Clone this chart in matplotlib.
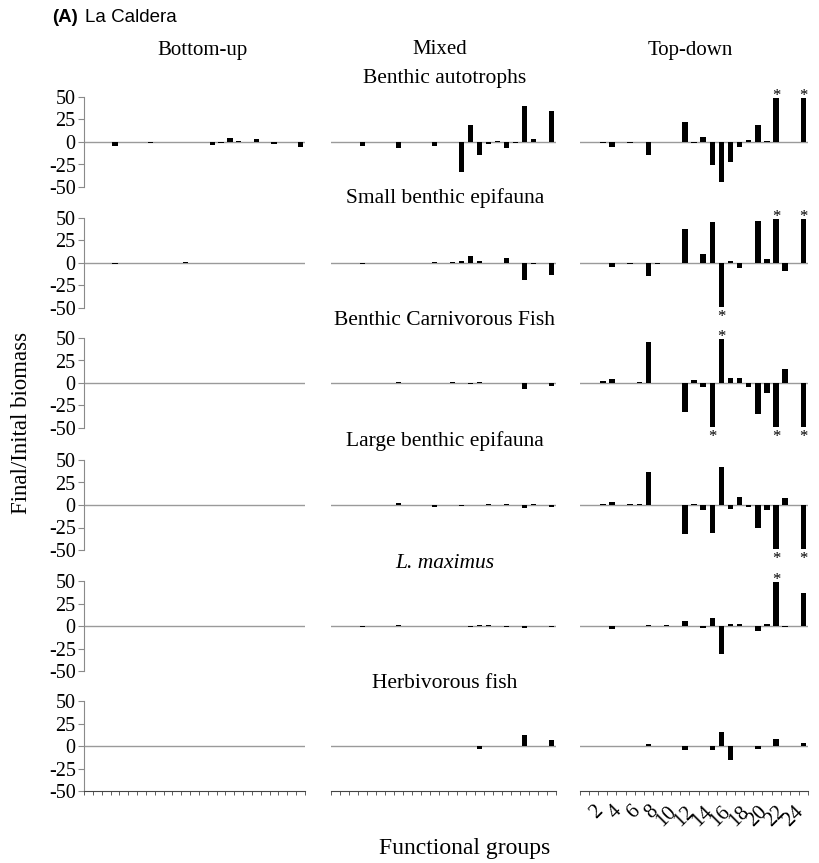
import numpy as np
import matplotlib
matplotlib.use("Agg")
from matplotlib import pyplot as plt

plt.rcParams['font.family'] = ['Liberation Serif', 'DejaVu Serif']
plt.rcParams['axes.unicode_minus'] = False

# functional groups 1..25
groups = np.arange(1, 26)
scenarios = ["Bottom-up", "Mixed", "Top-down"]
panel_titles = ["Benthic autotrophs", "Small benthic epifauna", "Benthic Carnivorous Fish",
                "Large benthic epifauna", "L. maximus", "Herbivorous fish"]

# Final/Initial biomass, one list per scenario
ba_bu = [0, 0, 0, -4, 0, -0.5, 0, -1.5, 0, -0.5, 0, -0.3, -0.3, 0, -3, -1, 4.5, 1.5, 0, 3.5, -0.5, -2.5, 0, 0, -5.5]
ba_mx = [0, 0, -0.5, -4, 0, -0.5, 0, -7, 0, 0.5, -0.5, -4.5, 0, 0, -33, 19, -15, -2.5, 1, -7, -1, 40, 3, 0, 34]
ba_td = [0, 0, -1, -6, 0, -1, -0.5, -15, -0.5, 0.5, -0.5, 22.5, -1, 5, -26, -44, -22, -6, 2, 19, 1, 49, 0, 0, 49]

sbe_bu = [0, 0, 0, -1, 0, 0, 0, -0.5, 0, 0, 0, 1, 0, 0, 0, -0.5, 0, 0, 0, 0, 0, 0, 0, 0, 0]
sbe_mx = [0, 0, -0.5, -1, 0, -0.5, -0.5, -0.5, 0, -0.5, 0, 1, 0, 1, 2, 8, 2, 0, -0.5, 5, -0.5, -19, -1, 0, -13]
sbe_td = [-0.5, -0.5, -0.5, -5, 0, -1, -0.5, -15, -1, 0, -0.5, 38, -0.5, 10, 45, -49, 2, -6, 0.5, 47, 4, 49, -8.5, 0, 49]

bcf_bu = [0, 0, 0, 0, -0.5, 0, 0, 0, 0, 0, 0, 0, 0, 0, 0, 0, 0, 0, 0, 0, 0, 0, 0, 0, 0]
bcf_mx = [0, 0, 0, 0, 0, 0, 0, 1.5, 0, 0, 0, 0.5, 0.5, 1, -0.5, -1, 1.5, 0, 0, -0.5, 0.5, -6.5, 0.5, 0, -3]
bcf_td = [0, 0.5, 2, 4, 0, 0.5, 1, 46, 0.5, -0.5, 0.5, -32, 3, -4, -49, 49, 5.5, 6, -4, -35, -11.5, -49, 15.5, 0, -49]

lbe_bu = [0, 0, 0, 0, 0, 0, 0, 0, 0, 0, 0, -0.5, 0, 0, 0, 0, 0, 0, 0, 0, 0, 0, 0, 0, 0]
lbe_mx = [0, 0, 0, 0, 0, 0, 0, 2, 0, 0, 0, -2, 0, -0.5, -1, 0, 0.5, 1, 0, 1, 0, -3, 1, 0, -2.5]
lbe_td = [0, 0, 1, 3.5, 0, 1, 1, 37, 0.5, -0.5, 0, -32, 1, -5.5, -31, 42, -4.5, 9, -2.5, -25, -6, -49, 8, 0, -49]

lm_bu = [0, 0, 0, -0.5, 0, 0, 0, 0, 0, 0, 0, 0, 0, 0, 0, 0, 0, 0, 0, 0, 0, 0, 0, 0, 0]
lm_mx = [0, 0, 0, -1.5, 0, -0.5, 0, 1.5, 0, 0.5, 0.5, 0, 0, -0.5, 0, -1.5, 1.5, 1, 0, -1.5, 0, -2.5, 0, 0, -1]
lm_td = [0, 0, 0, -3.5, 0, 0.5, 0, 1.5, 0, 1, 0.5, 5.5, 0, -2.5, 8.5, -31, 2, 2, 0.5, -5, 2, 49, -1.5, 0.5, 37]

hf_bu = [0, 0, 0, -0.5, 0, 0, 0, -0.5, 0, 0, 0, 0, 0, 0, 0, 0, 0.5, 0, 0, 0, 0, 0, 0, 0, 0]
hf_mx = [0, 0, 0, -0.5, 0, -0.5, 0, 0, 0, 0, 0, 0.5, 0, 0.5, 0.5, 0.5, -3.5, 0, 0, 0.5, 0, 12, 0, 0, 7]
hf_td = [0, 0, 0, -0.5, 0, -0.5, 0, 2, 0, 0, 0, -4.5, 0.5, 0, -4, 16, -15.5, 0.5, -0.5, -3, 0, 7.5, 0, 0, 3.5]

rows = [
    (ba_bu, ba_mx, ba_td),
    (sbe_bu, sbe_mx, sbe_td),
    (bcf_bu, bcf_mx, bcf_td),
    (lbe_bu, lbe_mx, lbe_td),
    (lm_bu, lm_mx, lm_td),
    (hf_bu, hf_mx, hf_td),
]

# significant groups (asterisks), top-down column only
stars_td = [[22, 25], [16, 22, 25], [15, 16, 22, 25], [22, 25], [22], []]

W, H = 819, 863
fig = plt.figure(figsize=(W / 100, H / 100), dpi=100)

col_px = [(84, 221), (331, 225), (580, 228)]
zero_px = [142, 263, 383, 505, 626, 746]
half = 45

def px_axes(left, width, zero):
    return fig.add_axes([left / W, 1 - (zero + half) / H, width / W, 2 * half / H])

for r, row in enumerate(rows):
    for c, vals in enumerate(row):
        left, width = col_px[c]
        ax = px_axes(left, width, zero_px[r])
        ax.bar(groups, vals, width=0.6, color='black', zorder=3)
        ax.axhline(0, color='#9a9a9a', lw=1.0, zorder=2)
        ax.set_xlim(0.5, 25.5)
        ax.set_ylim(-50, 50)
        for s in ['top', 'right', 'left', 'bottom']:
            ax.spines[s].set_visible(False)
        if c == 0:
            ax.spines['left'].set_visible(True)
            ax.spines['left'].set_color('#8a8a8a')
            ax.set_yticks([-50, -25, 0, 25, 50])
            ax.tick_params(axis='y', direction='out', length=4, color='#8a8a8a',
                           labelsize=14.5, pad=2)
        else:
            ax.set_yticks([])
        if r == len(rows) - 1:
            ax.spines['bottom'].set_visible(True)
            ax.spines['bottom'].set_color('#444444')
            ax.set_xticks(np.arange(0.5, 26, 1), minor=True)
            ax.tick_params(axis='x', which='minor', direction='out', length=3, color='#444444')
            if c == 2:
                ax.set_xticks(groups[1::2])
                ax.set_xticklabels([str(g) for g in groups[1::2]], rotation=45,
                                   ha='right', rotation_mode='anchor', fontsize=15)
                ax.tick_params(axis='x', which='major', length=0, pad=8)
            else:
                ax.set_xticks([])
        else:
            ax.set_xticks([])
        if c == 2:
            for g in stars_td[r]:
                v = vals[g - 1]
                dy = -1.8 if v > 0 else -9.8
                ax.annotate('*', xy=(g, v), xytext=(0, dy), textcoords='offset points',
                            ha='center', va='baseline', fontsize=12,
                            annotation_clip=False, zorder=5)

# column headers
for x, name in zip([203, 440, 690], scenarios):
    fig.text(x / W, 1 - 50 / H, name, ha='center', va='center', fontsize=15)

# group titles
for y, name in zip([78, 198, 320, 441, 563, 683], panel_titles):
    style = 'italic' if name.startswith('L.') else 'normal'
    fig.text(445 / W, 1 - y / H, name, ha='center', va='center', fontsize=15.5, style=style)

fig.text(52 / W, 1 - 18 / H, '(A)', ha='left', va='center', fontsize=13.5,
         fontweight='bold', family='Liberation Sans')
fig.text(85 / W, 1 - 18 / H, 'La Caldera', ha='left', va='center', fontsize=13.5,
         family='Liberation Sans')

fig.text(22 / W, 1 - 423 / H, 'Final/Inital biomass', rotation=90, ha='center',
         va='center', fontsize=16.5)
fig.text(465 / W, 1 - 848 / H, 'Functional groups', ha='center', va='center', fontsize=17)

fig.savefig('out.png', dpi=100)
